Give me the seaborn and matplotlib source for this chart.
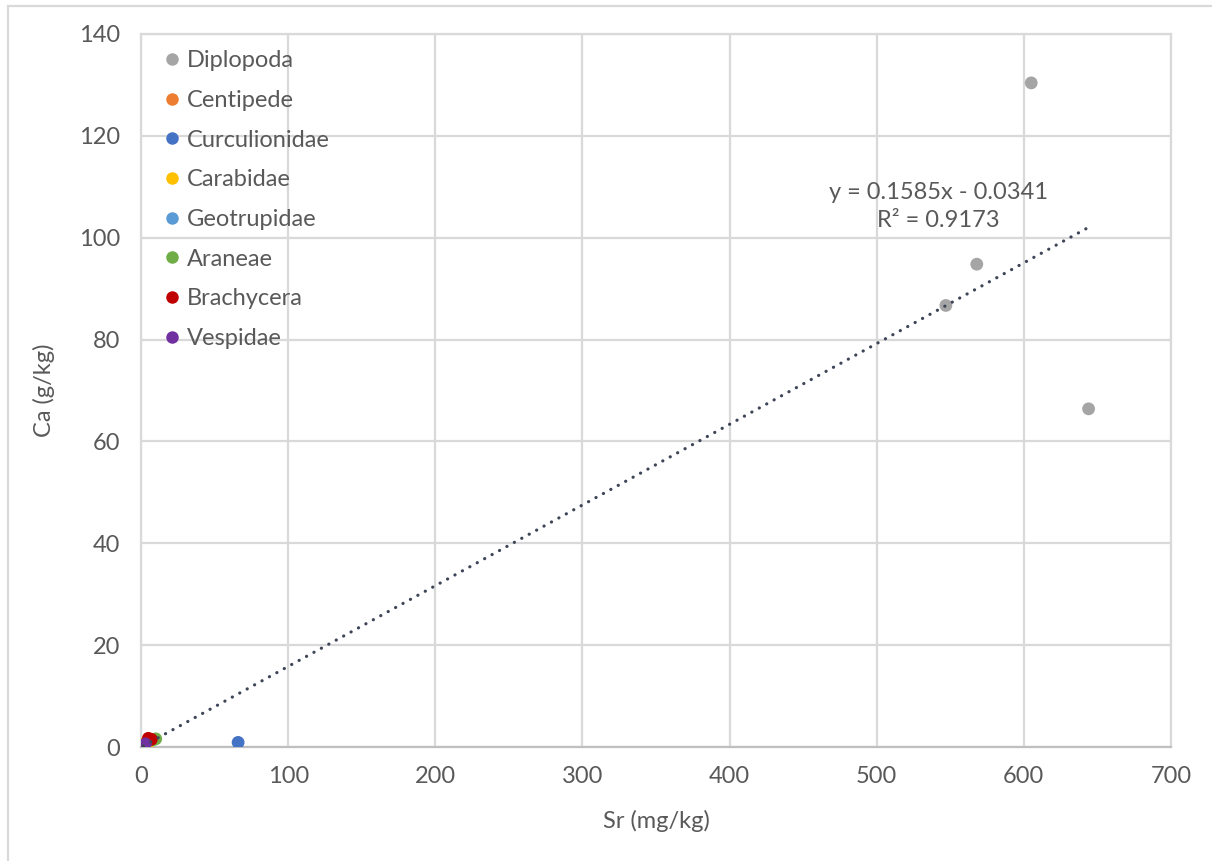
import matplotlib
matplotlib.use("Agg")
import matplotlib.pyplot as plt
import seaborn as sns
import numpy as np
import pandas as pd
from matplotlib.patches import Rectangle
from matplotlib.lines import Line2D

# ---- data ----
groups = ["Diplopoda", "Centipede", "Curculionidae", "Carabidae",
          "Geotrupidae", "Araneae", "Brachycera", "Vespidae"]
colors = ["#A5A5A5", "#ED7D31", "#4472C4", "#FFC000",
          "#5B9BD5", "#70AD47", "#C00000", "#7030A0"]

sr_diplopoda = [547, 568, 605, 644]
ca_diplopoda = [86.7, 94.8, 130.4, 66.4]
sr_centipede = [4.0, 5.5]
ca_centipede = [1.0, 1.3]
sr_curculionidae = [2.0, 66.0]
ca_curculionidae = [0.5, 0.9]
sr_carabidae = [3.0, 6.0]
ca_carabidae = [0.8, 1.1]
sr_geotrupidae = [2.5]
ca_geotrupidae = [0.2]
sr_araneae = [8.0, 10.0]
ca_araneae = [1.4, 1.6]
sr_brachycera = [5.0, 7.0]
ca_brachycera = [1.7, 1.5]
sr_vespidae = [1.5, 3.0]
ca_vespidae = [0.3, 0.6]

slope = 0.1585
intercept = -0.0341
r2 = 0.9173

x_ticks = [0, 100, 200, 300, 400, 500, 600, 700]
y_ticks = [0, 20, 40, 60, 80, 100, 120, 140]

sr_all = [sr_diplopoda, sr_centipede, sr_curculionidae, sr_carabidae,
          sr_geotrupidae, sr_araneae, sr_brachycera, sr_vespidae]
ca_all = [ca_diplopoda, ca_centipede, ca_curculionidae, ca_carabidae,
          ca_geotrupidae, ca_araneae, ca_brachycera, ca_vespidae]

rows = []
for g, xs, ys in zip(groups, sr_all, ca_all):
    for x, y in zip(xs, ys):
        rows.append({"group": g, "Sr": x, "Ca": y})
df = pd.DataFrame(rows)

# ---- style ----
sns.set_style("white")
plt.rcParams["font.family"] = ["Lato", "DejaVu Sans"]
txt = "#595959"
grid = "#D9D9D9"
fs = 17

fig = plt.figure(figsize=(12.12, 8.61), dpi=100)
ax = fig.add_axes([141 / 1212, 1 - 747 / 861, 1030 / 1212, 713 / 861])

# outer chart border
fig.patches.append(Rectangle((8 / 1212, -0.1), 1.2, 1 - 6 / 861 + 0.1,
                             transform=fig.transFigure, fill=False,
                             edgecolor=grid, linewidth=1.6))

palette = dict(zip(groups, colors))
sns.scatterplot(data=df, x="Sr", y="Ca", hue="group", hue_order=groups,
                palette=palette, s=85, edgecolor="none", ax=ax,
                legend=False, zorder=3)

# trendline
xs_all = np.concatenate([np.asarray(v, float) for v in sr_all])
xl = np.array([xs_all.min(), xs_all.max()])
ax.plot(xl, slope * xl + intercept, color="#3E4556", linewidth=2.3,
        linestyle=(0, (0.05, 2.6)), dash_capstyle="round", zorder=4)
ax.text(542, 106.1, f"y = {slope}x - {abs(intercept)}\nR² = {r2}",
        ha="center", va="center", fontsize=fs, color=txt, linespacing=1.45)

ax.set_xlim(0, 700)
ax.set_ylim(0, 140)
ax.set_xticks(x_ticks)
ax.set_yticks(y_ticks)
ax.grid(True, color=grid, linewidth=1.6)
ax.set_axisbelow(True)
for s in ax.spines.values():
    s.set_color(grid)
    s.set_linewidth(1.6)
ax.spines["bottom"].set_color("#BFBFBF")
ax.tick_params(axis="both", length=0, labelsize=fs, labelcolor=txt)
ax.tick_params(axis="x", pad=14)
ax.tick_params(axis="y", pad=15)
ax.set_xlabel("Sr (mg/kg)", fontsize=fs, color=txt, labelpad=16)
ax.set_ylabel("Ca (g/kg)", fontsize=fs, color=txt, labelpad=17)

handles = [Line2D([], [], marker="o", linestyle="none", markersize=9,
                  markerfacecolor=c, markeredgecolor="none") for c in colors]
ax.legend(handles, groups, loc="upper left", bbox_to_anchor=(0.004, 0.997),
          frameon=False, fontsize=fs, labelcolor=txt, handletextpad=0.05,
          labelspacing=0.79, handlelength=1.1, borderaxespad=0.2)

fig.savefig("out.png", dpi=100, facecolor="white")
